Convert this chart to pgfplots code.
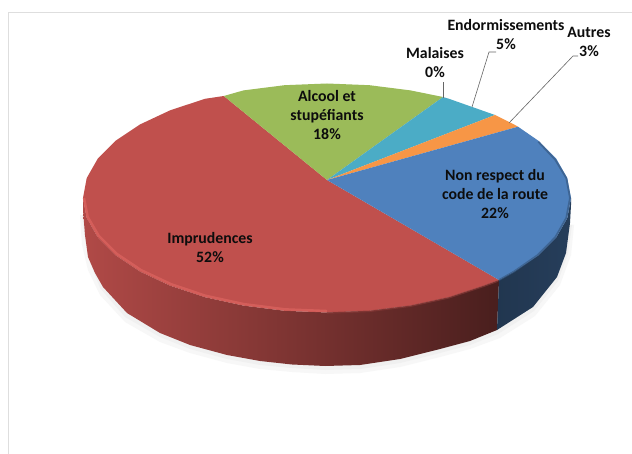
\documentclass[border=0pt]{standalone}
\usepackage{pgfplots}
\pgfplotsset{compat=1.18}
\usepackage{fontspec}
\setmainfont{Carlito}

\definecolor{cblue}{HTML}{4F81BD}
\definecolor{cred}{HTML}{C0504D}
\definecolor{cgreen}{HTML}{9BBB59}
\definecolor{cteal}{HTML}{4BACC6}
\definecolor{corange}{HTML}{F79646}
\definecolor{rim}{HTML}{DA625E}
\definecolor{lead}{HTML}{666666}
\tikzset{lab/.style={font=\bfseries\fontsize{15.8}{19}\selectfont, align=center, text=black!95, inner sep=0pt}}

\begin{document}
\begin{tikzpicture}
\begin{axis}[
  width=632pt, height=454pt, scale only axis,
  xmin=0, xmax=632, ymin=0, ymax=454,
  y dir=reverse,
  hide axis,
  every axis plot/.append style={no markers, line join=round},
]
% frame
\addplot[draw=none, fill=white] coordinates {(0,0) (632,0) (632,454) (0,454)};
\addplot[draw=black!13, line width=0.8pt] coordinates {(8.5,454) (8.5,12.5) (632,12.5)};

% soft shadow
\addplot[draw=none, fill=black!3] coordinates {
  (80,215) (82,245) (88,270) (100,295) (125,322) (160,342) (190,353) (227,363) (260,369)
  (292,372) (325,374) (360,373) (400,367) (440,357) (470,349) (500,338) (535,316) (560,285)
  (571,255) (574,225)};
\addplot[draw=none, fill=black!6] coordinates {
  (82,215) (85,240) (90,262) (100,288) (125,317) (160,337) (190,349) (227,359) (260,365)
  (292,368) (325,370) (360,369) (400,363) (440,353) (470,345) (498,334) (534,311) (558,281)
  (568,254) (572,225)};

% side walls
\addplot[draw=none, left color=cred!92!black, middle color=cred!60!black, right color=cred!38!black] coordinates {
  (83,198) (86.7,217.9) (97.7,237.2) (115.7,255.3) (140.1,271.6) (170.2,285.7) (205,297.2)
  (243.5,305.6) (284.6,310.8) (327,312.5) (369.4,310.8) (410.5,305.6) (449,297.2) (483.8,285.7) (499,280)
  (497,330) (470,341) (440,349) (400,359) (360,365) (325,366) (292,364.5) (260,361) (227,355)
  (190,345) (160,333) (127,313) (103,287) (95,273) (88,257) (85,235) (83,210)};
\addplot[draw=none, left color=cblue!42!black, right color=cblue!48!black] coordinates {
  (499,280) (513.9,271.6) (538.3,255.3) (556.3,237.2) (567.3,217.9) (571,198)
  (571,205) (570,223) (566,253) (557,277) (533,307) (497,330)};

% top slices
\addplot[draw=none, fill=cred] coordinates {
  (327,180) (499,280) (483.8,285.7) (449,297.2) (410.5,305.6) (369.4,310.8) (327,312.5)
  (284.6,310.8) (243.5,305.6) (205,297.2) (170.2,285.7) (140.1,271.6) (115.7,255.3) (97.7,237.2)
  (86.7,217.9) (83,198) (86.7,178.1) (97.7,158.8) (115.7,140.7) (140.1,124.4) (170.2,110.3)
  (205,98.8) (223.8,96)};
\addplot[draw=none, fill=cgreen] coordinates {
  (327,180) (223.8,96) (243.5,90.4) (284.6,85.2) (327,83.5) (369.4,85.2) (410.5,90.4) (443,97)};
\addplot[draw=none, fill=cteal] coordinates {
  (327,180) (443,97) (449,98.8) (495,115)};
\addplot[draw=none, fill=corange] coordinates {
  (327,180) (495,115) (513.9,124.4) (518,126.7)};
\addplot[draw=none, fill=cblue] coordinates {
  (327,180) (518,126.7) (538.3,140.7) (556.3,158.8) (567.3,178.1) (571,198) (567.3,217.9)
  (556.3,237.2) (538.3,255.3) (513.9,271.6) (499,280)};

% rim of the top face
\addplot[draw=rim, line width=2.4pt, opacity=.8] coordinates {
  (84,198) (87.7,216.9) (98.7,235.7) (116.7,253.8) (141.1,270.1) (171.2,284.2) (205.5,295.7)
  (244,304.1) (285,309.3) (327,311)};
\addplot[draw=cred!70!black, line width=1.6pt, opacity=.7] coordinates {
  (327,313) (369.4,311.3) (410.5,306.1) (449,297.7) (483.8,286.2) (498,281)};
\addplot[draw=cblue!70!black, line width=1.8pt, opacity=.7] coordinates {
  (538.3,141.7) (555.3,159.8) (566.3,178.1) (570,198) (566.3,217.9) (555.3,237.2) (537.3,255.3)
  (513.9,271.6) (499,280)};

% leader lines
\addplot[draw=lead, line width=0.6pt] coordinates {(443,98) (443,82.5)};
\addplot[draw=lead, line width=0.6pt] coordinates {(472,107) (489,52) (496,52)};
\addplot[draw=lead, line width=0.6pt] coordinates {(509,123) (573,56) (578,56)};

% data labels
\node[lab] at (axis cs:327,115) {Alcool et\\stupéfiants\\18\%};
\node[lab] at (axis cs:495,194) {Non respect du\\code de la route\\22\%};
\node[lab] at (axis cs:210,248) {Imprudences\\52\%};
\node[lab] at (axis cs:435,63) {Malaises\\0\%};
\node[lab] at (axis cs:506,34.5) {Endormissements\\5\%};
\node[lab] at (axis cs:589,41.5) {Autres\\3\%};
\end{axis}
\end{tikzpicture}
\end{document}
